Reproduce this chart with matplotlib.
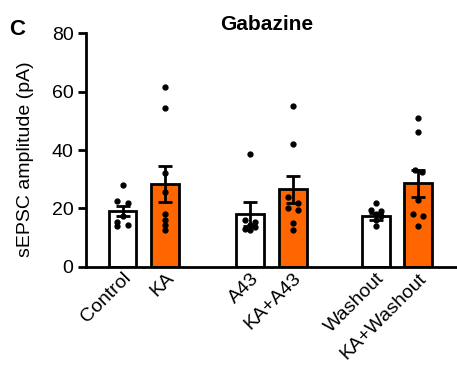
import numpy as np
import matplotlib.pyplot as plt
from matplotlib.transforms import ScaledTranslation

plt.rcParams['font.family'] = ['Liberation Sans', 'DejaVu Sans']

groups = ["Control", "KA", "A43", "KA+A43", "Washout", "KA+Washout"]
means = [19.1, 28.3, 18.1, 26.6, 17.4, 28.6]
sems = [1.6, 6.2, 4.2, 4.6, 1.2, 4.6]
points = [
    [28.0, 22.5, 22.0, 17.5, 15.5, 14.5, 14.0],
    [61.5, 54.5, 32.0, 25.5, 18.0, 16.0, 14.5, 12.5],
    [38.5, 16.0, 15.5, 14.5, 13.5, 13.0, 12.5],
    [55.0, 42.0, 24.0, 22.0, 20.0, 19.5, 15.0, 12.5],
    [22.0, 19.5, 19.0, 18.0, 17.5, 16.0, 14.0],
    [51.0, 46.0, 33.0, 32.5, 23.0, 18.0, 17.5, 14.0],
]
colors = ["white", "#FF6600", "white", "#FF6600", "white", "#FF6600"]

xpos = np.array([0, 1, 3, 4, 5.95, 6.95])
jitter = [
    [0, -0.12, 0.12, 0, -0.12, 0.12, -0.12],
    [0, 0, 0, 0, 0, 0, 0, 0],
    [0, -0.12, 0.12, 0, 0.12, -0.12, 0],
    [0, 0, -0.12, 0.12, -0.12, 0.12, 0, 0],
    [0, -0.12, 0.12, 0, 0.12, 0, 0],
    [0, 0, -0.08, 0.08, 0, -0.12, 0.12, 0],
]

fig = plt.figure(figsize=(4.57, 3.76), dpi=100)
ax = fig.add_axes([0.188, 0.29, 0.812, 0.622])

ax.bar(xpos, means, width=0.65, color=colors, edgecolor="black", linewidth=2, zorder=2)
ax.errorbar(xpos, means, yerr=sems, fmt="none", ecolor="black", elinewidth=2,
            capsize=5, capthick=2, zorder=4)
for i, pts in enumerate(points):
    ax.plot(xpos[i] + np.array(jitter[i]), pts, "o", color="black", markersize=3.5, zorder=3)

ax.set_xlim(-0.86, 7.86)
ax.set_ylim(0, 80)
ax.set_yticks([0, 20, 40, 60, 80])
ax.set_xticks(xpos)
ax.set_xticklabels(groups, rotation=45, ha="right", rotation_mode="anchor", fontsize=14)
shift = ScaledTranslation(10 / 100, 0, fig.dpi_scale_trans)
for lab in ax.get_xticklabels():
    lab.set_transform(lab.get_transform() + shift)
ax.tick_params(axis="x", length=0, pad=2)
ax.tick_params(axis="y", length=6, width=2, labelsize=14, pad=3)
ax.set_ylabel("sEPSC amplitude (pA)", fontsize=14)
ax.yaxis.set_label_coords(-0.14, 0.46)
for s in ["top", "right"]:
    ax.spines[s].set_visible(False)
for s in ["left", "bottom"]:
    ax.spines[s].set_linewidth(2)

fig.text(0.584, 0.92, "Gabazine", fontsize=15, fontweight="bold", ha="center")
fig.text(0.02, 0.907, "C", fontsize=16, fontweight="bold")

fig.savefig("out.png", dpi=100)
